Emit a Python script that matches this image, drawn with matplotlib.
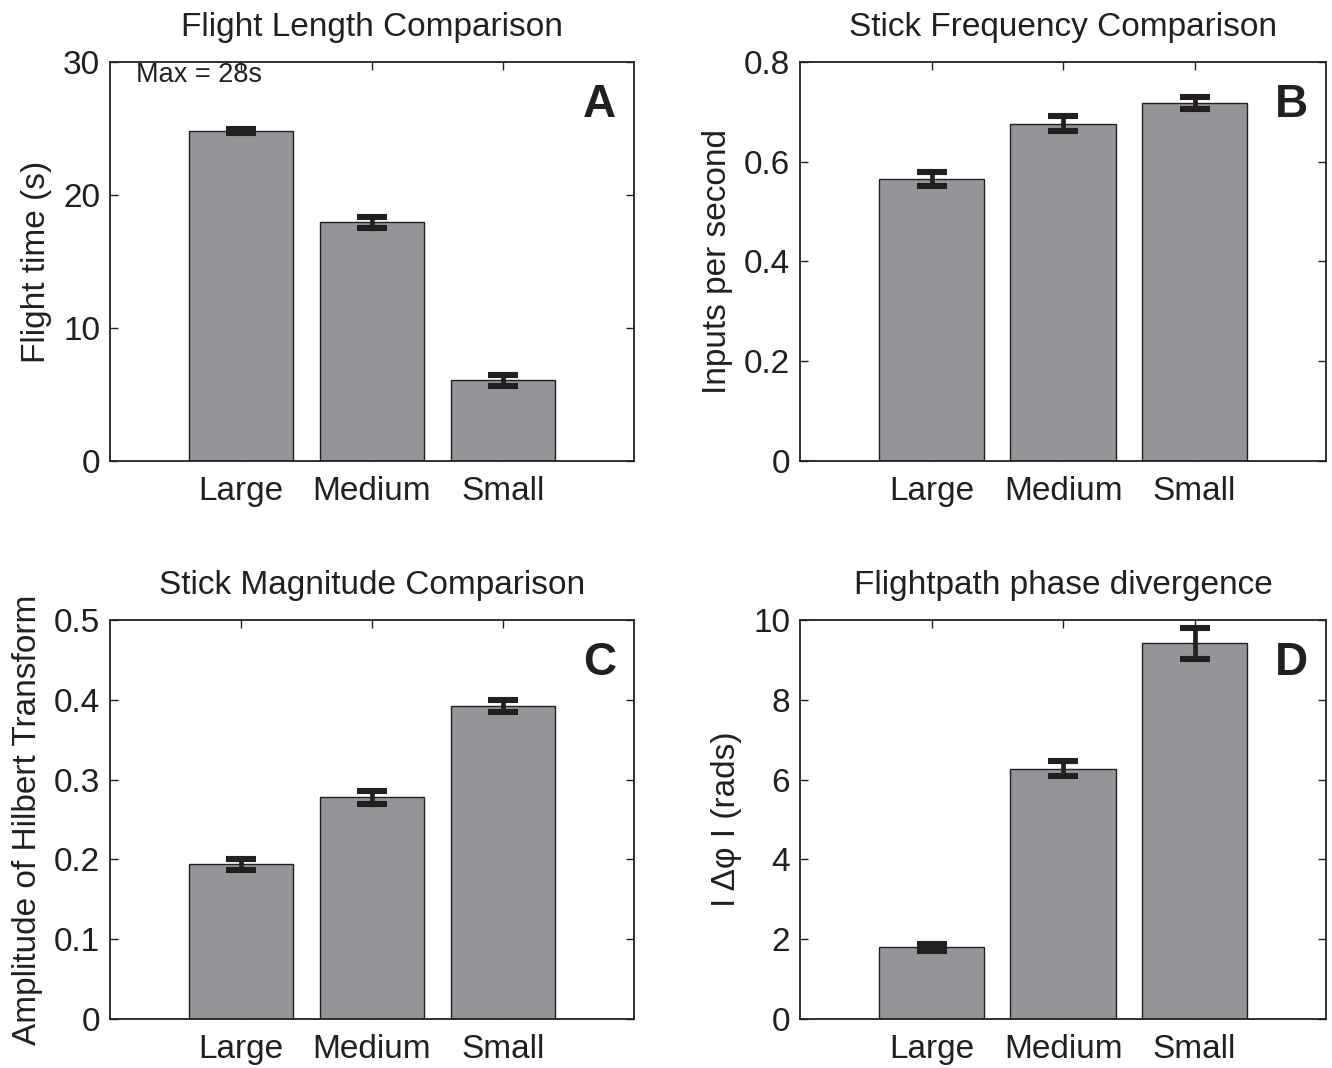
import numpy as np
import matplotlib
matplotlib.use('Agg')
import matplotlib.pyplot as plt

plt.rcParams['font.family'] = ['Liberation Sans', 'DejaVu Sans']

# Group sizes along the x axis
categories = ['Large', 'Medium', 'Small']

# (A) flight length
flight_time = [24.8, 17.95, 6.05]
flight_time_err = [0.15, 0.41, 0.38]

# (B) stick frequency
stick_freq = [0.565, 0.676, 0.718]
stick_freq_err = [0.014, 0.015, 0.012]

# (C) stick magnitude
stick_mag = [0.194, 0.278, 0.392]
stick_mag_err = [0.007, 0.008, 0.0075]

# (D) flightpath phase divergence
phase_div = [1.80, 6.27, 9.42]
phase_div_err = [0.09, 0.19, 0.39]

panels = [
    dict(vals=flight_time, err=flight_time_err, title='Flight Length Comparison',
         ylabel='Flight time (s)', ylim=(0, 30), yticks=[0, 10, 20, 30],
         yticklabels=['0', '10', '20', '30'], letter='A'),
    dict(vals=stick_freq, err=stick_freq_err, title='Stick Frequency Comparison',
         ylabel='Inputs per second', ylim=(0, 0.8), yticks=[0, 0.2, 0.4, 0.6, 0.8],
         yticklabels=['0', '0.2', '0.4', '0.6', '0.8'], letter='B'),
    dict(vals=stick_mag, err=stick_mag_err, title='Stick Magnitude Comparison',
         ylabel='Amplitude of Hilbert Transform', ylim=(0, 0.5),
         yticks=[0, 0.1, 0.2, 0.3, 0.4, 0.5],
         yticklabels=['0', '0.1', '0.2', '0.3', '0.4', '0.5'], letter='C'),
    dict(vals=phase_div, err=phase_div_err, title='Flightpath phase divergence',
         ylabel='I \u0394\u03c6 I (rads)', ylim=(0, 10), yticks=[0, 2, 4, 6, 8, 10],
         yticklabels=['0', '2', '4', '6', '8', '10'], letter='D'),
]

# axes boxes in figure fractions [left, bottom, width, height]
boxes = [
    [0.0826, 0.5684, 0.3934, 0.3736],
    [0.6006, 0.5684, 0.3950, 0.3736],
    [0.0826, 0.0459, 0.3934, 0.3736],
    [0.6006, 0.0459, 0.3950, 0.3736],
]

bar_color = '#939598'
ink = '#231f20'
fs = 24

fig = plt.figure(figsize=(13.32, 10.68), dpi=100)

x = np.arange(1, len(categories) + 1)
for p, box in zip(panels, boxes):
    ax = fig.add_axes(box)
    ax.bar(x, p['vals'], width=0.8, color=bar_color, edgecolor=ink, linewidth=1.0, zorder=2)
    ax.errorbar(x, p['vals'], yerr=p['err'], fmt='none', ecolor=ink,
                elinewidth=3.4, capsize=11, capthick=4.4, zorder=3)

    ax.set_xlim(0, 4)
    ax.set_ylim(*p['ylim'])
    ax.set_xticks(x)
    ax.set_xticklabels(categories)
    ax.set_yticks(p['yticks'])
    ax.set_yticklabels(p['yticklabels'])
    ax.tick_params(direction='in', length=6, width=1, top=True, right=True,
                   labelsize=fs, colors=ink)
    ax.tick_params(axis='x', pad=11)
    ax.tick_params(axis='y', pad=7)
    for s in ax.spines.values():
        s.set_linewidth(1.3)
        s.set_color(ink)

    ax.set_title(p['title'], fontsize=fs, pad=19, color=ink)
    ax.set_ylabel(p['ylabel'], fontsize=fs, color=ink, labelpad=8)

    ax.text(0.965, 0.893, p['letter'], transform=ax.transAxes, ha='right', va='center',
            fontsize=33, fontweight='bold', color=ink,
            family=['Liberation Sans Narrow', 'Liberation Sans'])

# note on the flight-length panel
fig.axes[0].text(0.2, 29.0, 'Max = 28s', ha='left', va='center', fontsize=19.5, color=ink)

fig.savefig('out.png', dpi=100)
